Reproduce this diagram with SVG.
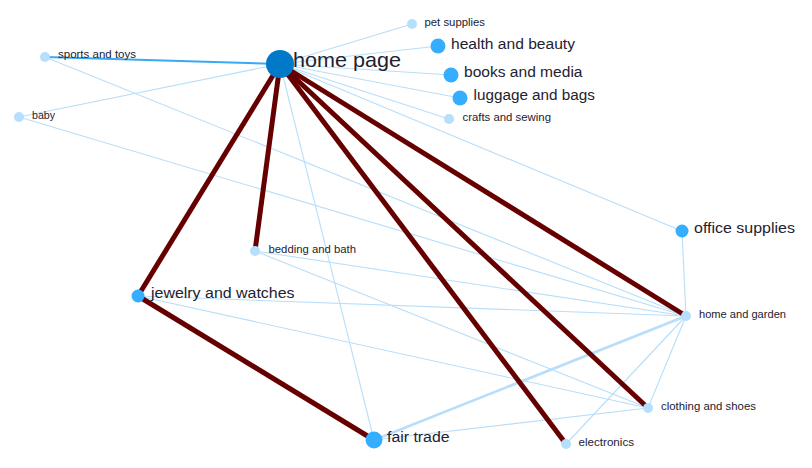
<svg xmlns="http://www.w3.org/2000/svg" width="812" height="468" viewBox="0 0 812 468">
<style>
.bg{fill:#ffffff}
.e{fill:none;stroke:#b8defa;stroke-width:1.1}
.ew{fill:none;stroke:#b8defa;stroke-width:2.6}
.eb{fill:none;stroke:#3aa9f3;stroke-width:2}
.ed{fill:none;stroke:#660000;stroke-width:5;stroke-linecap:butt}
.nh{fill:#0079c9}
.nm{fill:#36aeff}
.nl{fill:#b5e0fd}
text{font-family:"Liberation Sans",Arial,sans-serif;fill:#222230}
.tl{font-size:21px}
.tm{font-size:15.5px}
.ts{font-size:11.3px}
</style>
<rect class="bg" x="0" y="0" width="812" height="468"/>
<g id="connectors">
<line class="e" x1="280" y1="64" x2="19" y2="117"/>
<line class="e" x1="280" y1="64" x2="412" y2="24"/>
<line class="e" x1="280" y1="64" x2="438" y2="46"/>
<line class="e" x1="280" y1="64" x2="451" y2="75"/>
<line class="e" x1="280" y1="64" x2="460" y2="98"/>
<line class="e" x1="280" y1="64" x2="449" y2="119"/>
<line class="e" x1="280" y1="64" x2="682" y2="231"/>
<line class="e" x1="280" y1="64" x2="374" y2="440"/>
<line class="e" x1="45" y1="57" x2="686" y2="316"/>
<line class="e" x1="19" y1="117" x2="686" y2="316"/>
<line class="e" x1="255" y1="251" x2="686" y2="316"/>
<line class="e" x1="255" y1="251" x2="648" y2="408"/>
<line class="e" x1="138" y1="296" x2="686" y2="316"/>
<line class="e" x1="138" y1="296" x2="648" y2="408"/>
<line class="e" x1="374" y1="440" x2="648" y2="408"/>
<line class="e" x1="566" y1="444" x2="686" y2="316"/>
<line class="e" x1="648" y1="408" x2="686" y2="316"/>
<line class="e" x1="682" y1="231" x2="686" y2="316"/>
<line class="ew" x1="374" y1="440" x2="686" y2="316"/>
<line class="eb" x1="45" y1="57" x2="280" y2="64"/>
<line class="ed" x1="280" y1="64" x2="138" y2="296"/>
<line class="ed" x1="280" y1="64" x2="255" y2="251"/>
<line class="ed" x1="280" y1="64" x2="566" y2="444"/>
<line class="ed" x1="280" y1="64" x2="648" y2="408"/>
<line class="ed" x1="280" y1="64" x2="686" y2="316"/>
<line class="ed" x1="138" y1="296" x2="374" y2="440"/>
</g>
<g id="home-page"><circle class="nh" cx="280" cy="64" r="14"/><text class="tl" x="293" y="67" textLength="108" lengthAdjust="spacingAndGlyphs">home page</text></g>
<g id="sports-and-toys"><circle class="nl" cx="45" cy="57" r="5"/><text class="ts" x="58" y="57.5" textLength="78" lengthAdjust="spacingAndGlyphs">sports and toys</text></g>
<g id="baby"><circle class="nl" cx="19" cy="117" r="5"/><text class="ts" x="32" y="118.5" textLength="23" lengthAdjust="spacingAndGlyphs">baby</text></g>
<g id="pet-supplies"><circle class="nl" cx="412" cy="24" r="5"/><text class="ts" x="424.5" y="25.7" textLength="60.5" lengthAdjust="spacingAndGlyphs">pet supplies</text></g>
<g id="health-and-beauty"><circle class="nm" cx="438" cy="46" r="7.5"/><text class="tm" x="451" y="48.5" textLength="124" lengthAdjust="spacingAndGlyphs">health and beauty</text></g>
<g id="books-and-media"><circle class="nm" cx="451" cy="75" r="7.5"/><text class="tm" x="464" y="77" textLength="118.5" lengthAdjust="spacingAndGlyphs">books and media</text></g>
<g id="luggage-and-bags"><circle class="nm" cx="460" cy="98" r="7.5"/><text class="tm" x="473.5" y="100" textLength="121.5" lengthAdjust="spacingAndGlyphs">luggage and bags</text></g>
<g id="crafts-and-sewing"><circle class="nl" cx="449" cy="119" r="5"/><text class="ts" x="462.5" y="121" textLength="88.5" lengthAdjust="spacingAndGlyphs">crafts and sewing</text></g>
<g id="office-supplies"><circle class="nm" cx="682" cy="231" r="6.5"/><text class="tm" x="694" y="233" textLength="101" lengthAdjust="spacingAndGlyphs">office supplies</text></g>
<g id="bedding-and-bath"><circle class="nl" cx="255" cy="251" r="5"/><text class="ts" x="268.5" y="253" textLength="87.5" lengthAdjust="spacingAndGlyphs">bedding and bath</text></g>
<g id="jewelry-and-watches"><circle class="nm" cx="138" cy="296" r="6.5"/><text class="tm" x="151" y="298" textLength="143.5" lengthAdjust="spacingAndGlyphs">jewelry and watches</text></g>
<g id="home-and-garden"><circle class="nl" cx="686" cy="316" r="5"/><text class="ts" x="699" y="317.5" textLength="87" lengthAdjust="spacingAndGlyphs">home and garden</text></g>
<g id="clothing-and-shoes"><circle class="nl" cx="648" cy="408" r="5"/><text class="ts" x="661" y="410" textLength="95" lengthAdjust="spacingAndGlyphs">clothing and shoes</text></g>
<g id="electronics"><circle class="nl" cx="566" cy="444" r="5"/><text class="ts" x="578.5" y="446" textLength="55.5" lengthAdjust="spacingAndGlyphs">electronics</text></g>
<g id="fair-trade"><circle class="nm" cx="374" cy="440" r="8.5"/><text class="tm" x="387" y="442" textLength="62.5" lengthAdjust="spacingAndGlyphs">fair trade</text></g>
</svg>
